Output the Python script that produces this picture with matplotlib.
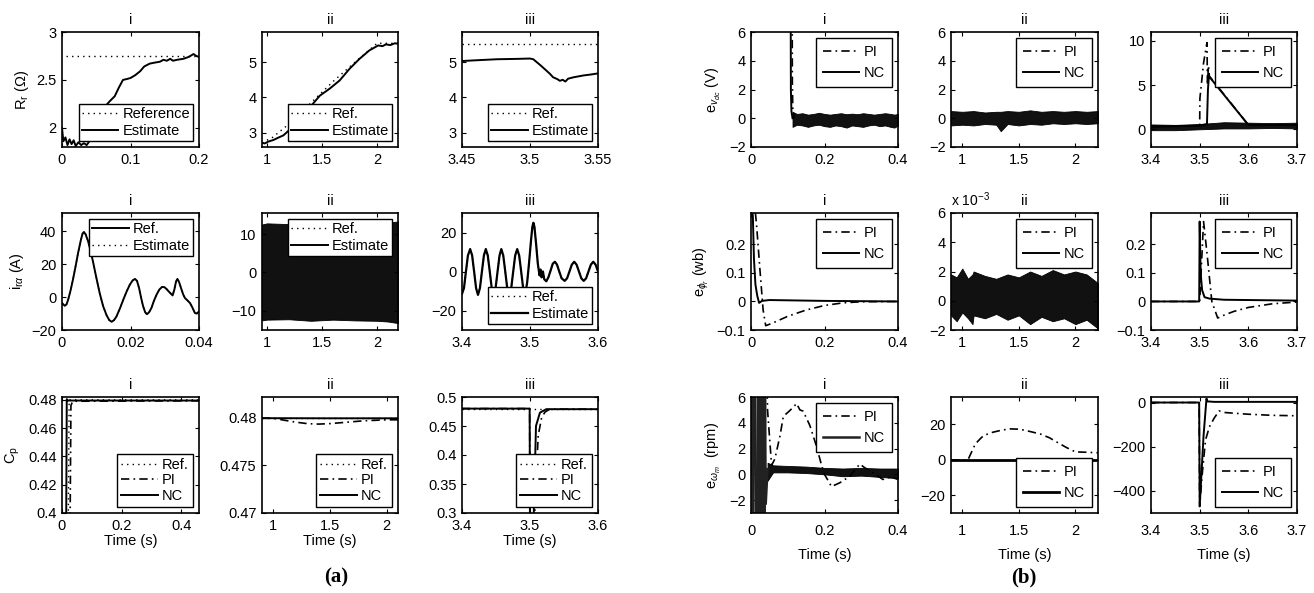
import matplotlib.pyplot as plt
from matplotlib.ticker import FuncFormatter

plt.rcParams['font.family'] = ['Liberation Sans', 'DejaVu Sans']
plt.rcParams['mathtext.fontset'] = 'custom'
plt.rcParams['mathtext.rm'] = 'Liberation Sans'
plt.rcParams['mathtext.it'] = 'Liberation Sans:italic'
plt.rcParams['font.size'] = 10.5

FS = 10.5

# ---------------- (a) rotor resistance ----------------
rr1_ref_t = [0.006, 0.2]
rr1_ref = [2.75, 2.75]
rr1_est_t = [0.0, 0.002, 0.005, 0.008, 0.011, 0.014, 0.017, 0.02, 0.024, 0.028, 0.032, 0.036, 0.04,
             0.045, 0.05, 0.055, 0.06, 0.065, 0.07, 0.077, 0.083, 0.089, 0.095, 0.1, 0.107, 0.114,
             0.12, 0.128, 0.135, 0.143, 0.148, 0.153, 0.158, 0.162, 0.168, 0.177, 0.185, 0.192, 0.196, 0.2]
rr1_est = [2.0, 1.86, 1.9, 1.82, 1.88, 1.83, 1.87, 1.81, 1.85, 1.82, 1.84, 1.82, 1.86,
           1.92, 2.0, 2.08, 2.16, 2.24, 2.28, 2.33, 2.42, 2.5, 2.51, 2.52, 2.55, 2.59,
           2.64, 2.67, 2.68, 2.69, 2.71, 2.7, 2.72, 2.7, 2.71, 2.72, 2.74, 2.77, 2.75, 2.74]

rr2_ref_t = [0.955, 1.05, 1.2, 1.4, 1.6, 1.8, 2.0, 2.19]
rr2_ref = [2.72, 2.87, 3.25, 3.85, 4.45, 5.0, 5.53, 5.53]
rr2_est_t = [0.955, 0.98, 1.01, 1.06, 1.1, 1.15, 1.21, 1.3, 1.406, 1.48, 1.57, 1.66, 1.75, 1.84,
             1.93, 2.01, 2.05, 2.08, 2.12, 2.16, 2.19]
rr2_est = [2.72, 2.7, 2.75, 2.8, 2.86, 2.93, 3.1, 3.45, 3.78, 4.05, 4.25, 4.48, 4.81, 5.09,
           5.33, 5.47, 5.45, 5.5, 5.48, 5.53, 5.52]

rr3_ref_t = [3.45, 3.55]
rr3_ref = [5.5, 5.5]
rr3_est_t = [3.45, 3.46, 3.4756, 3.49, 3.5, 3.5024, 3.508, 3.5146, 3.517, 3.52, 3.522, 3.524,
             3.526, 3.528, 3.532, 3.539, 3.545, 3.55]
rr3_est = [5.03, 5.05, 5.08, 5.09, 5.1, 5.08, 4.9, 4.67, 4.57, 4.52, 4.47, 4.5,
           4.45, 4.53, 4.57, 4.62, 4.65, 4.68]

# ---------------- (a) rotor current ----------------
ir1_t = [0.0, 0.0008, 0.0013, 0.0018, 0.0025, 0.0032, 0.004, 0.0047, 0.0055, 0.006, 0.0064, 0.0069,
         0.0076, 0.0083, 0.0091, 0.01, 0.011, 0.012, 0.013, 0.0138, 0.0145, 0.0152, 0.0159, 0.0169,
         0.0179, 0.0189, 0.0198, 0.0206, 0.0213, 0.0219, 0.0225, 0.0231, 0.0237, 0.0243, 0.0248,
         0.0254, 0.0261, 0.0268, 0.0276, 0.0284, 0.0292, 0.0299, 0.0305, 0.0312, 0.0318, 0.0323,
         0.0328, 0.0333, 0.0337, 0.0342, 0.0349, 0.0354, 0.0359, 0.0366, 0.0374, 0.0381, 0.0388,
         0.0394, 0.04]
ir1 = [-3.7, -5.3, -4.5, -1.6, 4.0, 10.6, 19.0, 26.8, 34.5, 38.5, 39.5, 38.0,
       34.0, 28.5, 21.0, 12.0, 2.4, -5.5, -11.0, -14.0, -15.0, -14.0, -11.8, -7.0,
       -1.6, 3.5, 7.5, 10.0, 11.0, 9.8, 5.5, -0.5, -5.7, -9.3, -10.4,
       -9.3, -6.7, -2.5, 1.4, 4.5, 6.1, 6.0, 4.9, 3.3, 2.0, 1.0,
       4.5, 9.5, 11.0, 9.0, 4.5, 1.5, -0.6, -2.0, -3.7, -6.5, -9.7,
       -10.0, -8.7]

ir2_band_t = [0.955, 1.0, 1.2, 1.4, 1.6, 1.8, 2.0, 2.1, 2.19]
ir2_hi = [12.5, 12.8, 12.6, 12.4, 12.5, 12.7, 12.6, 13.0, 13.3]
ir2_lo = [-12.5, -12.3, -12.2, -12.6, -12.3, -12.5, -12.6, -12.8, -13.2]

ir3_t = [3.4, 3.4029, 3.4058, 3.4087, 3.412, 3.4149, 3.4178, 3.4207, 3.4235, 3.4264, 3.4293, 3.4322,
         3.435, 3.4379, 3.4408, 3.4437, 3.4465, 3.4494, 3.4523, 3.4552, 3.4578, 3.4607, 3.4636,
         3.4665, 3.4695, 3.4724, 3.4753, 3.4782, 3.4812, 3.4841, 3.487, 3.4899, 3.4927, 3.4957,
         3.4985, 3.5015, 3.5035, 3.505, 3.5065, 3.509, 3.5115, 3.514, 3.5155, 3.517, 3.519, 3.521,
         3.524, 3.527, 3.5303, 3.5335, 3.5366, 3.5397, 3.543, 3.5465, 3.551, 3.5545, 3.558, 3.5615,
         3.565, 3.5685, 3.572, 3.5755, 3.579, 3.5825, 3.586, 3.5895, 3.593, 3.5965, 3.6]
ir3 = [-11.5, -8.5, 0, 8.2, 11.5, 8.2, 0, -8.5, -12, -8.5, 0, 8.2,
       11.5, 8.2, 0, -8.5, -12, -8.5, 0, 8.2, 11.5, 8.2, 0,
       -8.5, -12, -8.5, 0, 8.2, 11.5, 8.2, 0, -8.5, -12, -6,
       4, 16, 23, 25, 23, 14, 4, -2, 1, -3, 0, -4,
       -5, -3, 0.5, 4, 5, 3.5, 0, -3.5, -4.8, -3.5, 0, 3.5,
       5, 3.5, 0, -3.5, -4.8, -3.5, 0, 3.5, 5, 3.5, 0]

# ---------------- (a) power coefficient ----------------
cp1_ref_t = [0.0, 0.018, 0.024, 0.46]
cp1_ref = [0.3, 0.3, 0.48, 0.48]
cp1_pi_t = [0.0, 0.024, 0.03, 0.036, 0.46]
cp1_pi = [0.3, 0.3, 0.476, 0.479, 0.4793]
cp1_nc_t = [0.0, 0.012, 0.016, 0.02, 0.46]
cp1_nc = [0.3, 0.3, 0.4805, 0.4795, 0.4795]

cp2_ref_t = [0.9, 2.1]
cp2_ref = [0.48, 0.48]
cp2_pi_t = [0.9, 1.0, 1.1, 1.2, 1.3, 1.4, 1.5, 1.6, 1.8, 2.0, 2.1]
cp2_pi = [0.47997, 0.47996, 0.47975, 0.47955, 0.4794, 0.47935, 0.4794, 0.4795, 0.4797, 0.4798, 0.4798]
cp2_nc_t = [0.9, 1.0, 1.5, 2.0, 2.1]
cp2_nc = [0.47998, 0.47997, 0.47996, 0.47996, 0.47996]

cp3_ref_t = [3.4, 3.6]
cp3_ref = [0.48, 0.48]
cp3_pi_t = [3.4, 3.4995, 3.5, 3.507, 3.512, 3.517, 3.522, 3.529, 3.6]
cp3_pi = [0.48, 0.48, 0.25, 0.3, 0.433, 0.464, 0.474, 0.479, 0.479]
cp3_nc_t = [3.4, 3.4995, 3.5, 3.5045, 3.5088, 3.5146, 3.524, 3.6]
cp3_nc = [0.48, 0.48, 0.25, 0.25, 0.45, 0.473, 0.479, 0.479]

# ---------------- (b) dc-link voltage error ----------------
vdc1_pi_t = [0.112, 0.1125, 0.114, 0.118]
vdc1_pi = [8, 2.5, 0.4, 0.0]
vdc1_nc_t = [0.108, 0.1085, 0.11, 0.113]
vdc1_nc = [8, 2.0, 0.5, 0.0]
vdc1_band_t = [0.113, 0.125, 0.14, 0.155, 0.17, 0.185, 0.2, 0.215, 0.23, 0.245, 0.26, 0.275, 0.29,
               0.305, 0.32, 0.335, 0.35, 0.365, 0.38, 0.39, 0.4]
vdc1_hi = [0.45, 0.3, 0.35, 0.25, 0.3, 0.38, 0.3, 0.25, 0.3, 0.35, 0.28, 0.32, 0.28,
           0.35, 0.3, 0.25, 0.3, 0.35, 0.3, 0.25, 0.3]
vdc1_lo = [-0.6, -0.45, -0.5, -0.6, -0.5, -0.45, -0.55, -0.6, -0.5, -0.55, -0.65, -0.5, -0.55,
           -0.6, -0.5, -0.45, -0.55, -0.5, -0.6, -0.65, -0.5]

vdc2_band_t = [0.9, 1.0, 1.1, 1.2, 1.3, 1.34, 1.4, 1.5, 1.6, 1.7, 1.8, 1.9, 2.0, 2.1, 2.2]
vdc2_hi = [0.5, 0.45, 0.5, 0.4, 0.45, 0.45, 0.5, 0.45, 0.55, 0.45, 0.5, 0.45, 0.5, 0.45, 0.5]
vdc2_lo = [-0.5, -0.45, -0.5, -0.4, -0.45, -0.9, -0.4, -0.5, -0.4, -0.45, -0.35, -0.4, -0.35, -0.4, -0.35]

vdc3_pi_t = [3.4, 3.5, 3.5005, 3.508, 3.515, 3.516, 3.518, 3.52, 3.6, 3.7]
vdc3_pi = [0.3, 0.4, 3.5, 7.5, 9.8, 5.0, 7.2, 6.0, 0.5, 0.5]
vdc3_nc_t = [3.4, 3.5, 3.515, 3.517, 3.519, 3.6, 3.7]
vdc3_nc = [0.3, 0.4, 0.6, 4.5, 6.0, 0.5, 0.5]
vdc3_band_t = [3.4, 3.45, 3.5, 3.55, 3.6, 3.65, 3.7]
vdc3_hi = [0.55, 0.5, 0.6, 0.8, 0.75, 0.7, 0.75]
vdc3_lo = [-0.1, -0.1, 0.0, 0.1, 0.1, 0.15, 0.1]

# ---------------- (b) rotor flux error ----------------
flux1_pi_t = [0.012, 0.015, 0.025, 0.033, 0.04, 0.06, 0.1, 0.15, 0.2, 0.25, 0.3, 0.4]
flux1_pi = [0.31, 0.27, 0.1, -0.03, -0.085, -0.075, -0.052, -0.03, -0.014, -0.005, -0.001, 0.0]
flux1_nc_t = [0.0, 0.005, 0.008, 0.012, 0.017, 0.022, 0.03, 0.05, 0.1, 0.2, 0.4]
flux1_nc = [0.35, 0.3, 0.15, 0.06, 0.02, -0.005, 0.002, 0.005, 0.004, 0.002, 0.0]

# values in units of 1e-3 wb
flux2_band_t = [0.9, 0.95, 1.0, 1.05, 1.09, 1.1, 1.2, 1.3, 1.4, 1.5, 1.6, 1.7, 1.8, 1.9, 2.0, 2.1, 2.2]
flux2_hi = [1.8, 1.6, 2.2, 1.5, 1.8, 2.0, 1.7, 1.5, 1.8, 1.6, 2.0, 1.7, 2.1, 1.8, 2.0, 1.8, 1.2]
flux2_lo = [-1.0, -1.4, -0.8, -1.2, -1.6, -1.0, -1.2, -0.9, -1.3, -1.0, -1.6, -1.1, -1.4, -1.2, -1.6, -1.3, -1.9]

flux3_pi_t = [3.4, 3.5, 3.508, 3.515, 3.525, 3.537, 3.55, 3.57, 3.6, 3.65, 3.7]
flux3_pi = [0.0, 0.0, 0.28, 0.17, 0.0, -0.058, -0.048, -0.035, -0.021, -0.008, -0.002]
flux3_nc_t = [3.4, 3.499, 3.5, 3.502, 3.505, 3.51, 3.52, 3.55, 3.7]
flux3_nc = [0.0, 0.0, 0.28, 0.1, 0.04, 0.015, 0.01, 0.006, 0.003]

# ---------------- (b) speed error ----------------
wm1_pi_t = [0.044, 0.045, 0.056, 0.065, 0.079, 0.088, 0.1, 0.115, 0.124, 0.133, 0.142, 0.16, 0.178,
            0.192, 0.2, 0.219, 0.242, 0.269, 0.296, 0.31, 0.323, 0.359, 0.38, 0.4]
wm1_pi = [6.5, 5.0, 0.7, 1.2, 3.0, 4.5, 4.8, 5.2, 5.5, 5.0, 4.9, 3.8, 2.2,
          0.7, 0.0, -0.95, -0.65, -0.15, 0.8, 0.5, 0.3, -0.4, -0.2, -0.4]
wm1_nc_t = [0.0, 0.003, 0.005, 0.007, 0.019, 0.021, 0.023, 0.03, 0.032, 0.034, 0.036, 0.038, 0.040, 0.045]
wm1_nc = [0, 30, -30, 30, -30, 30, -30, 30, -30, 20, -10, 6, -2.3, 0.4]
wm1_band_t = [0.045, 0.06, 0.1, 0.15, 0.2, 0.25, 0.3, 0.35, 0.4]
wm1_hi = [0.9, 0.7, 0.65, 0.6, 0.5, 0.45, 0.5, 0.45, 0.45]
wm1_lo = [-0.5, 0.15, 0.15, 0.1, 0.0, -0.15, -0.1, -0.2, -0.3]

wm2_pi_t = [0.9, 1.05, 1.115, 1.16, 1.19, 1.27, 1.35, 1.42, 1.51, 1.6, 1.69, 1.77, 1.84, 1.92, 2.0, 2.1, 2.2]
wm2_pi = [0, 0, 9, 12, 13.8, 15.6, 16.8, 17.5, 17.3, 16.0, 14.6, 12.5, 9.9, 7.0, 4.5, 4.3, 4.0]
wm2_nc_t = [0.9, 2.2]
wm2_nc = [0, 0]

wm3_pi_t = [3.4, 3.499, 3.5, 3.505, 3.512, 3.52, 3.53, 3.54, 3.55, 3.6, 3.65, 3.7]
wm3_pi = [0, 0, -470, -330, -170, -110, -70, -38, -45, -53, -58, -60]
wm3_nc_t = [3.4, 3.499, 3.5, 3.508, 3.514, 3.516, 3.53, 3.7]
wm3_nc = [0, 0, -470, -150, 18, 5, 3, 3]

# ---------------- layout (pixel boxes) ----------------
W, H = 1314, 593
cols_a = [(62, 199), (262, 398), (462, 598)]
cols_b = [(751, 898), (951, 1098), (1151, 1297)]
rows = [(32, 147), (213, 330), (397, 513)]

fig = plt.figure(figsize=(W / 100, H / 100), dpi=100)

SOLID = dict(color='black', lw=1.4, linestyle='-')
DOT = dict(color='black', lw=1.0, linestyle=(0, (1, 3)))
DASHDOT = dict(color='black', lw=1.2, linestyle=(0, (5, 2.5, 1, 2.5)))
fmt = FuncFormatter(lambda v, p: ('%g' % round(v, 6)).replace('-', '\u2212'))


def panel(col, row, title, xlim, ylim, xticks, yticks):
    ax = fig.add_axes([col[0] / W, 1 - row[1] / H, (col[1] - col[0]) / W, (row[1] - row[0]) / H])
    ax.set_xlim(xlim)
    ax.set_ylim(ylim)
    ax.set_xticks(xticks)
    ax.set_yticks(yticks)
    ax.xaxis.set_major_formatter(fmt)
    ax.yaxis.set_major_formatter(fmt)
    ax.tick_params(direction='in', top=True, right=True, length=3, width=0.8, labelsize=FS, pad=4)
    for s in ax.spines.values():
        s.set_linewidth(1.2)
    ax.set_title(title, fontsize=FS, pad=6)
    return ax


def legend(ax, loc, pad=0.3, spacing=0.3):
    leg = ax.legend(loc=loc, fontsize=FS, frameon=True, fancybox=False, edgecolor='black',
                    framealpha=1, borderpad=pad, labelspacing=spacing, handlelength=2.5,
                    handletextpad=0.3, borderaxespad=0.4)
    leg.get_frame().set_linewidth(1.0)


def band(ax, t, lo, hi):
    ax.fill_between(t, lo, hi, color='#111111', lw=0.6, edgecolor='black')


# ----- (a) row 1 -----
ax = panel(cols_a[0], rows[0], 'i', (0, 0.2), (1.8, 3), [0, 0.1, 0.2], [2, 2.5, 3])
ax.plot(rr1_ref_t, rr1_ref, label='Reference', **DOT)
ax.plot(rr1_est_t, rr1_est, label='Estimate', **SOLID)
ax.set_ylabel('R$_\\mathrm{r}$ (\u03a9)')
legend(ax, 'lower right', 0.2, 0.2)

ax = panel(cols_a[1], rows[0], 'ii', (0.955, 2.19), (2.6, 5.85), [1, 1.5, 2], [3, 4, 5])
ax.plot(rr2_ref_t, rr2_ref, label='Ref.', **DOT)
ax.plot(rr2_est_t, rr2_est, label='Estimate', **SOLID)
legend(ax, 'lower right', 0.2, 0.2)

ax = panel(cols_a[2], rows[0], 'iii', (3.45, 3.55), (2.6, 5.85), [3.45, 3.5, 3.55], [3, 4, 5])
ax.plot(rr3_ref_t, rr3_ref, label='Ref.', **DOT)
ax.plot(rr3_est_t, rr3_est, label='Estimate', **SOLID)
legend(ax, 'lower right', 0.2, 0.2)

# ----- (a) row 2 -----
ax = panel(cols_a[0], rows[1], 'i', (0, 0.04), (-20, 51), [0, 0.02, 0.04], [-20, 0, 20, 40])
ax.plot(ir1_t, ir1, label='Ref.', **SOLID)
ax.plot(ir1_t, ir1, label='Estimate', **DOT)
ax.set_ylabel('i$_{\\mathrm{r}\\alpha}$ (A)')
legend(ax, 'upper right', 0.2, 0.2)

ax = panel(cols_a[1], rows[1], 'ii', (0.955, 2.19), (-15, 15.5), [1, 1.5, 2], [-10, 0, 10])
band(ax, ir2_band_t, ir2_lo, ir2_hi)
ax.plot([], [], label='Ref.', **DOT)
ax.plot([], [], label='Estimate', **SOLID)
legend(ax, 'upper right', 0.2, 0.2)

ax = panel(cols_a[2], rows[1], 'iii', (3.4, 3.6), (-30, 30), [3.4, 3.5, 3.6], [-20, 0, 20])
ax.plot(ir3_t, ir3, label='Ref.', **DOT)
ax.plot(ir3_t, ir3, label='Estimate', color='black', lw=1.6)
legend(ax, 'lower right', 0.2, 0.2)

# ----- (a) row 3 -----
ax = panel(cols_a[0], rows[2], 'i', (0, 0.46), (0.4, 0.482), [0, 0.2, 0.4],
           [0.4, 0.42, 0.44, 0.46, 0.48])
ax.plot(cp1_ref_t, cp1_ref, label='Ref.', **DOT)
ax.plot(cp1_pi_t, cp1_pi, label='PI', **DASHDOT)
ax.plot(cp1_nc_t, cp1_nc, label='NC', **SOLID)
ax.set_ylabel('C$_\\mathrm{p}$')
ax.set_xlabel('Time (s)', labelpad=1)
legend(ax, 'lower right', 0.3, 0.1)

ax = panel(cols_a[1], rows[2], 'ii', (0.9, 2.1), (0.47, 0.4822), [1, 1.5, 2], [0.47, 0.475, 0.48])
ax.plot(cp2_ref_t, cp2_ref, label='Ref.', **DOT)
ax.plot(cp2_pi_t, cp2_pi, label='PI', **DASHDOT)
ax.plot(cp2_nc_t, cp2_nc, label='NC', **SOLID)
ax.set_xlabel('Time (s)', labelpad=1)
legend(ax, 'lower right', 0.3, 0.1)

ax = panel(cols_a[2], rows[2], 'iii', (3.4, 3.6), (0.3, 0.5), [3.4, 3.5, 3.6],
           [0.3, 0.35, 0.4, 0.45, 0.5])
ax.plot(cp3_ref_t, cp3_ref, label='Ref.', **DOT)
ax.plot(cp3_pi_t, cp3_pi, label='PI', **DASHDOT)
ax.plot(cp3_nc_t, cp3_nc, label='NC', **SOLID)
ax.set_xlabel('Time (s)', labelpad=1)
legend(ax, 'lower right', 0.3, 0.1)

# ----- (b) row 1 -----
ax = panel(cols_b[0], rows[0], 'i', (0, 0.4), (-2, 6), [0, 0.2, 0.4], [-2, 0, 2, 4, 6])
ax.plot(vdc1_pi_t, vdc1_pi, label='PI', **DASHDOT)
ax.plot(vdc1_nc_t, vdc1_nc, label='NC', **SOLID)
band(ax, vdc1_band_t, vdc1_lo, vdc1_hi)
ax.set_ylabel('e$_{v_{dc}}$ (V)')
legend(ax, 'upper right', 0.5, 0.45)

ax = panel(cols_b[1], rows[0], 'ii', (0.9, 2.2), (-2, 6), [1, 1.5, 2], [-2, 0, 2, 4, 6])
band(ax, vdc2_band_t, vdc2_lo, vdc2_hi)
ax.plot([], [], label='PI', **DASHDOT)
ax.plot([], [], label='NC', **SOLID)
legend(ax, 'upper right', 0.5, 0.45)

ax = panel(cols_b[2], rows[0], 'iii', (3.4, 3.7), (-2, 11), [3.4, 3.5, 3.6, 3.7], [0, 5, 10])
ax.plot(vdc3_pi_t, vdc3_pi, label='PI', **DASHDOT)
ax.plot(vdc3_nc_t, vdc3_nc, label='NC', **SOLID)
band(ax, vdc3_band_t, vdc3_lo, vdc3_hi)
legend(ax, 'upper right', 0.5, 0.45)

# ----- (b) row 2 -----
ax = panel(cols_b[0], rows[1], 'i', (0, 0.4), (-0.1, 0.31), [0, 0.2, 0.4], [-0.1, 0, 0.1, 0.2])
ax.plot(flux1_pi_t, flux1_pi, label='PI', **DASHDOT)
ax.plot(flux1_nc_t, flux1_nc, label='NC', **SOLID)
ax.set_ylabel('e$_{\\phi_r}$ (wb)')
legend(ax, 'upper right', 0.5, 0.45)

ax = panel(cols_b[1], rows[1], 'ii', (0.9, 2.2), (-2, 6), [1, 1.5, 2], [-2, 0, 2, 4, 6])
band(ax, flux2_band_t, flux2_lo, flux2_hi)
ax.plot([], [], label='PI', **DASHDOT)
ax.plot([], [], label='NC', **SOLID)
ax.text(0, 1.03, 'x 10$^{-3}$', transform=ax.transAxes, ha='left', va='bottom', fontsize=FS - 0.5)
legend(ax, 'upper right', 0.5, 0.45)

ax = panel(cols_b[2], rows[1], 'iii', (3.4, 3.7), (-0.1, 0.31), [3.4, 3.5, 3.6, 3.7],
           [-0.1, 0, 0.1, 0.2])
ax.plot(flux3_pi_t, flux3_pi, label='PI', **DASHDOT)
ax.plot(flux3_nc_t, flux3_nc, label='NC', **SOLID)
legend(ax, 'upper right', 0.5, 0.45)

# ----- (b) row 3 -----
ax = panel(cols_b[0], rows[2], 'i', (0, 0.4), (-3, 6), [0, 0.2, 0.4], [-2, 0, 2, 4, 6])
ax.plot(wm1_pi_t, wm1_pi, label='PI', **DASHDOT)
ax.plot(wm1_nc_t, wm1_nc, label='NC', color='#222222', lw=1.8)
band(ax, wm1_band_t, wm1_lo, wm1_hi)
ax.set_ylabel('e$_{\\omega_m}$  (rpm)')
ax.set_xlabel('Time (s)', labelpad=7)
ax.tick_params(axis='x', pad=8)
legend(ax, 'upper right', 0.5, 0.45)

ax = panel(cols_b[1], rows[2], 'ii', (0.9, 2.2), (-30, 35.5), [1, 1.5, 2], [-20, 0, 20])
ax.plot(wm2_pi_t, wm2_pi, label='PI', **DASHDOT)
ax.plot(wm2_nc_t, wm2_nc, label='NC', color='black', lw=2.0)
ax.set_xlabel('Time (s)', labelpad=7)
ax.tick_params(axis='x', pad=8)
legend(ax, 'lower right', 0.5, 0.45)

ax = panel(cols_b[2], rows[2], 'iii', (3.4, 3.7), (-500, 25), [3.4, 3.5, 3.6, 3.7],
           [-400, -200, 0])
ax.plot(wm3_pi_t, wm3_pi, label='PI', **DASHDOT)
ax.plot(wm3_nc_t, wm3_nc, label='NC', **SOLID)
ax.set_xlabel('Time (s)', labelpad=7)
ax.tick_params(axis='x', pad=8)
legend(ax, 'lower right', 0.5, 0.45)

fig.text(336 / W, 1 - 577 / H, '(a)', ha='center', va='center', fontsize=15,
         fontweight='bold', family='Liberation Serif')
fig.text(1024 / W, 1 - 577 / H, '(b)', ha='center', va='center', fontsize=15,
         fontweight='bold', family='Liberation Serif')

fig.savefig('out.png', dpi=100)
